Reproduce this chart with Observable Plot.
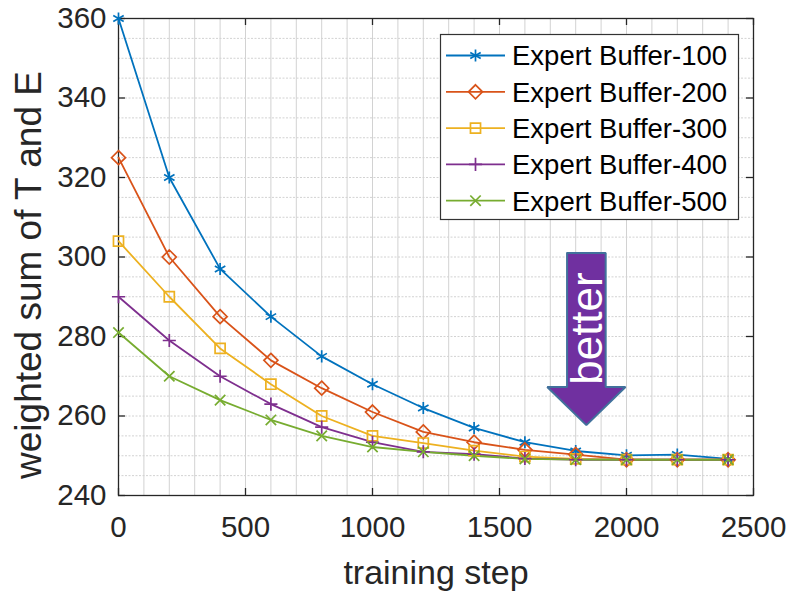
<!DOCTYPE html>
<html><head><meta charset="utf-8">
<script src="https://cdn.jsdelivr.net/npm/d3@7"></script>
<script src="https://cdn.jsdelivr.net/npm/@observablehq/plot@0.6"></script>
<style>
body{margin:0;background:#fff;font-family:"Liberation Sans",Arial,sans-serif;}
#wrap{position:relative;width:792px;height:592px;}
#legend{position:absolute;left:440px;top:34px;}
</style></head><body><div id="wrap"></div>
<script>
const steps = [0,200,400,600,800,1000,1200,1400,1600,1800,2000,2200,2400];
const buffer100 = [360,320,297,285,275,268,262,257,253.4,251.2,250.1,250.3,249.2];
const buffer200 = [325,300,285,274,267,261,256,253.4,251.5,250.3,249,249,249];
const buffer300 = [304,290,277,268,260,255,253.2,251.3,249.8,249.2,249,249,249];
const buffer400 = [290,279,270,263,257.2,253.4,251,250.4,249.3,249,249,249,249];
const buffer500 = [281,270,264,259,255,252.2,251,250,249.2,249,249,249,249];
const seriesNames = ["Expert Buffer-100","Expert Buffer-200","Expert Buffer-300","Expert Buffer-400","Expert Buffer-500"];
const seriesValues = [buffer100,buffer200,buffer300,buffer400,buffer500];
const seriesColors = ["#0072BD","#D95319","#EDB120","#7E2F8E","#77AC30"];
const seriesSymbols = ["asterisk","diamond2","square2","plus","times"];
const xTicks = [0,500,1000,1500,2000,2500];
const yTicks = [240,260,280,300,320,340,360];
const xLabel = "training step";
const yLabel = "weighted sum of T and E";
const arrowLabel = "better";
// block arrow annotation outline, in data units (x: step, y: value)
const arrowX = [1766,1918,1918,1996,1842,1688,1766,1766];
const arrowY = [301,301,267.3,267.3,257.7,267.3,267.3,301];

const symbolSize = {asterisk:5.7, diamond2:6.3, square2:6.4, plus:4.3, times:4.8};
const d3Sym = {asterisk:d3.symbolAsterisk, diamond2:d3.symbolDiamond2, square2:d3.symbolSquare2, plus:d3.symbolPlus, times:d3.symbolTimes};

const rows = [];
seriesNames.forEach((name, s) => steps.forEach((x, i) => rows.push({series: name, x, y: seriesValues[s][i]})));
const arrowPts = arrowX.map((x, i) => ({x, y: arrowY[i]}));

const font = '"Liberation Sans", Arial, sans-serif';
const tickLenY = 7 / (477 / 120);
const tickLenX = 7 / (634.4 / 2500);

const marks = [
  Plot.gridX(d3.range(100, 2500, 100), {stroke: "#d2d2d2", strokeOpacity: 1}),
  Plot.gridY(d3.range(245, 360, 5), {stroke: "#d2d2d2", strokeOpacity: 1, strokeDasharray: "2,1.5"}),
  Plot.frame({stroke: "#262626", strokeWidth: 1.3}),
  Plot.ruleX(xTicks, {x: d => d, y1: 240, y2: 240 + tickLenY, stroke: "#262626", strokeWidth: 1.3}),
  Plot.ruleX(xTicks, {x: d => d, y1: 360 - tickLenY, y2: 360, stroke: "#262626", strokeWidth: 1.3}),
  Plot.ruleY(yTicks, {y: d => d, x1: 0, x2: tickLenX, stroke: "#262626", strokeWidth: 1.3}),
  Plot.ruleY(yTicks, {y: d => d, x1: 2500 - tickLenX, x2: 2500, stroke: "#262626", strokeWidth: 1.3}),
  Plot.axisX({ticks: xTicks, tickFormat: d => String(d), tickSize: 0, tickPadding: 21, fontSize: 29.5, label: null, fill: "#262626"}),
  Plot.axisY({ticks: yTicks, tickFormat: d => String(d), tickSize: 0, tickPadding: 12, fontSize: 29.5, label: null, fill: "#262626"}),
  Plot.text([xLabel], {text: d => d, frameAnchor: "bottom", dy: 88, lineAnchor: "bottom", fontSize: 34, fill: "#262626"}),
  Plot.text([yLabel], {text: d => d, frameAnchor: "left", textAnchor: "middle", dx: -78, dy: 18, rotate: -90, lineAnchor: "bottom", fontSize: 37, fill: "#262626"})
];
seriesNames.forEach((name, s) => {
  const data = rows.filter(r => r.series === name);
  marks.push(Plot.line(data, {x: "x", y: "y", stroke: seriesColors[s], strokeWidth: 1.8}));
});
seriesNames.forEach((name, s) => {
  const data = rows.filter(r => r.series === name);
  marks.push(Plot.dot(data, {x: "x", y: "y", symbol: () => seriesSymbols[s], r: symbolSize[seriesSymbols[s]], stroke: seriesColors[s], fill: "none", strokeWidth: 1.7}));
});
marks.push(Plot.line(arrowPts, {x: "x", y: "y", fill: "#7030A0", stroke: "#41719C", strokeWidth: 2, strokeLinejoin: "miter", curve: "linear"}));
marks.push(Plot.text([arrowLabel], {text: d => d, x: () => 1905, y: () => 282, rotate: -90, lineAnchor: "bottom", fontSize: 44, fill: "white"}));

const chart = Plot.plot({
  width: 792, height: 592,
  marginLeft: 118, marginRight: 39, marginTop: 18, marginBottom: 97,
  x: {domain: [0, 2500]},
  y: {domain: [240, 360]},
  symbol: {type: "identity"},
  style: {fontFamily: font, background: "white", color: "#262626"},
  marks
});
const wrap = document.getElementById("wrap");
wrap.appendChild(chart);

// legend
const lg = d3.create("svg").attr("id", "legend").attr("width", 300).attr("height", 187).style("overflow", "visible");
lg.append("rect").attr("x", 0.5).attr("y", 0.5).attr("width", 298).attr("height", 185).attr("fill", "white").attr("stroke", "#333").attr("stroke-width", 1.2);
seriesNames.forEach((name, s) => {
  const cy = 21.5 + 36.3 * s;
  const g = lg.append("g");
  g.append("line").attr("x1", 6).attr("x2", 65).attr("y1", cy).attr("y2", cy).attr("stroke", seriesColors[s]).attr("stroke-width", 1.8);
  const r = symbolSize[seriesSymbols[s]];
  g.append("path").attr("transform", `translate(35.5,${cy})`).attr("d", d3.symbol(d3Sym[seriesSymbols[s]], Math.PI * r * r)()).attr("fill", "none").attr("stroke", seriesColors[s]).attr("stroke-width", 1.7);
  g.append("text").attr("x", 72).attr("y", cy).attr("dy", "0.36em").attr("font-family", font).attr("font-size", 27.5).attr("fill", "#000").text(name);
});
wrap.appendChild(lg.node());
</script></body></html>
